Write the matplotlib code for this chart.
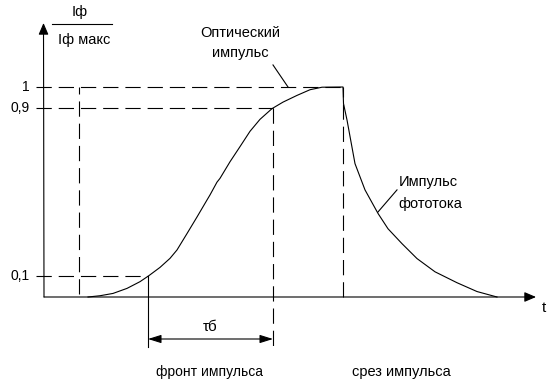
import matplotlib
matplotlib.use("Agg")
import matplotlib.pyplot as plt

plt.rcParams['font.family'] = ['Liberation Sans', 'DejaVu Sans']
plt.rcParams['lines.scale_dashes'] = False

# Photocurrent pulse, rising edge (time units, normalised current)
rise_t = [44, 56, 69, 83, 96, 105, 116, 126, 133, 143, 153, 163, 166, 173, 176, 186,
          196, 206, 216, 228, 239, 253, 266, 278, 299]
rise_i = [0.0, 0.006, 0.017, 0.041, 0.073, 0.102, 0.141, 0.184, 0.224, 0.302, 0.381,
          0.462, 0.486, 0.547, 0.565, 0.644, 0.716, 0.789, 0.846, 0.897, 0.928, 0.960,
          0.987, 0.999, 1.0]
# Falling edge
fall_t = [299, 299.5, 303, 311, 321, 334, 344, 358, 373, 391, 413, 433, 453]
fall_i = [1.0, 0.921, 0.843, 0.635, 0.510, 0.398, 0.325, 0.254, 0.183, 0.120, 0.068,
          0.026, 0.0]

# Optical pulse (rectangular): start, end, level
opt_start, opt_end, opt_level = 35, 299, 1.0
# Levels marked on the y axis
levels = [1.0, 0.9, 0.1]
level_labels = ['1', '0,9', '0,1']
t10, t90 = 104, 229   # crossings of 0.1 and 0.9

W, H = 554, 383
fig = plt.figure(figsize=(W / 100, H / 100), dpi=100)
ax = fig.add_axes([0, 0, 1, 1])
ax.set_xlim(-44, 510)
ax.set_ylim((297 - 383) / 210, 297 / 210)
ax.axis('off')

lw = 0.8
dash = (11, 5)
k = 'black'

# axes with arrows
ax.annotate('', xy=(-0.5, (297 - 23) / 210), xytext=(0, 0),
            arrowprops=dict(arrowstyle='-|>,head_length=0.7,head_width=0.3', color=k, lw=lw, shrinkA=0, shrinkB=0))
ax.annotate('', xy=(492, 0), xytext=(0, 0),
            arrowprops=dict(arrowstyle='-|>,head_length=0.7,head_width=0.3', color=k, lw=lw, shrinkA=0, shrinkB=0))

# curve
ax.plot(rise_t + fall_t, rise_i + fall_i, color=k, lw=lw)

# dashed optical pulse
ax.plot([opt_start, opt_start], [0.015, opt_level], color=k, lw=lw, dashes=dash)
ax.plot([opt_end, opt_end], [0, opt_level], color=k, lw=lw, dashes=dash)

# level lines
ends = [opt_end, t90, t10]
for lv, e in zip(levels, ends):
    ax.plot([-8, e], [lv, lv], color=k, lw=lw, dashes=dash)
for lv, lab in zip(levels, level_labels):
    ax.text(-14, lv, lab, ha='right', va='center', fontsize=10)

# verticals for rise time
ax.plot([t10, t10], [0.1, -0.238], color=k, lw=lw)
ax.plot([t90, t90], [0.9, -0.238], color=k, lw=lw, dashes=dash)
ax.annotate('', xy=(t10, -0.2), xytext=(t90, -0.2),
            arrowprops=dict(arrowstyle='<|-|>,head_length=0.8,head_width=0.25', color=k, lw=lw, shrinkA=0, shrinkB=0))
ax.text((t10 + t90) / 2, -0.145, 'τб', ha='center', va='center', fontsize=11)

# y label fraction
ax.text(36, 1.357, 'Iф', ha='center', va='center', fontsize=10.5)
ax.plot([8, 68], [(297 - 24) / 210] * 2, color=k, lw=lw)
ax.text(40, 1.224, 'Iф макс', ha='center', va='center', fontsize=10.5)

# t label
ax.text(500, -0.05, 't', ha='center', va='center', fontsize=11)

# annotations
ax.text(196, 1.257, 'Оптический', ha='center', va='center', fontsize=10.5)
ax.text(196, 1.162, 'импульс', ha='center', va='center', fontsize=10.5)
ax.plot([229, 244], [1.105, 1.0], color=k, lw=lw)

ax.text(355, 0.548, 'Импульс', ha='left', va='center', fontsize=10.5)
ax.text(354, 0.443, 'фототока', ha='left', va='center', fontsize=10.5)
ax.plot([353, 334], [0.51, 0.405], color=k, lw=lw)

ax.text(165, -0.357, 'фронт импульса', ha='center', va='center', fontsize=10)
ax.text(357, -0.357, 'срез импульса', ha='center', va='center', fontsize=10.5)

fig.savefig('out.png', dpi=100)
